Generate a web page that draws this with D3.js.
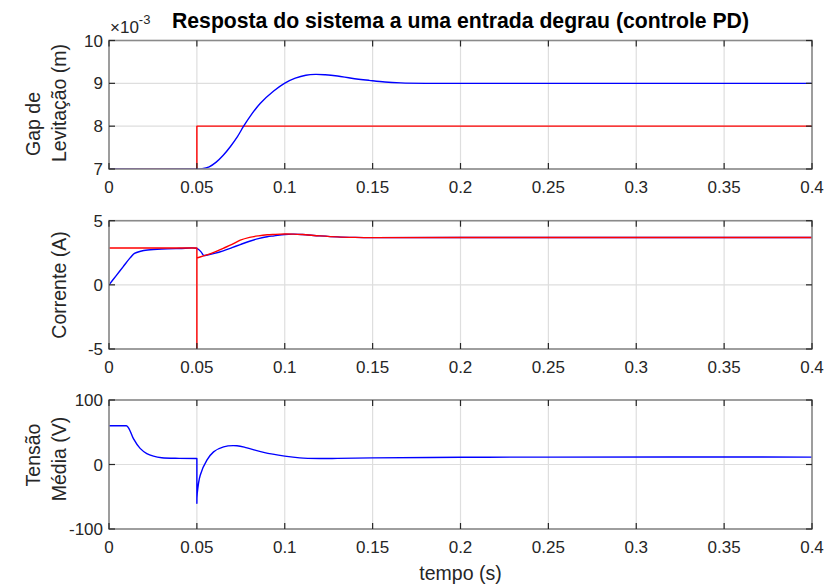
<!DOCTYPE html>
<html><head><meta charset="utf-8">
<script src="https://cdn.jsdelivr.net/npm/d3@7"></script>
<style>body{margin:0;background:#fff} text{font-family:"Liberation Sans",Arial,Helvetica,sans-serif;fill:#262626}</style>
</head><body><svg id="c" width="827" height="586"></svg>
<script>
// ---- data ----
const timeTicks = [0, 0.05, 0.1, 0.15, 0.2, 0.25, 0.3, 0.35, 0.4];
const timeTickLabels = ["0", "0.05", "0.1", "0.15", "0.2", "0.25", "0.3", "0.35", "0.4"];
const gapTicks = [7, 8, 9, 10];            // x10^-3 m
const currentTicks = [-5, 0, 5];
const voltageTicks = [-100, 0, 100];

// Gap de levitação (x10^-3 m)
const gapRefT = [0, 0.05, 0.05, 0.4];
const gapRefV = [7, 7, 8, 8];
const gapT = [0, 0.05, 0.053, 0.057, 0.061, 0.065, 0.069, 0.073, 0.0766, 0.081, 0.086, 0.0937, 0.0998, 0.106, 0.112, 0.1175, 0.123, 0.13, 0.138, 0.148, 0.157, 0.166, 0.18, 0.25, 0.4];
const gapV = [7, 7, 7.005, 7.05, 7.16, 7.32, 7.52, 7.75, 8.0, 8.27, 8.53, 8.82, 9.0, 9.12, 9.19, 9.21, 9.2, 9.17, 9.12, 9.07, 9.03, 9.01, 9.0, 9.0, 9.0];

// Corrente (A)
const curRefT = [0, 0.05, 0.05, 0.05, 0.0557, 0.06, 0.065, 0.07, 0.0747, 0.08, 0.085, 0.09, 0.094, 0.1, 0.105, 0.11, 0.12, 0.13, 0.14, 0.15, 0.2, 0.4];
const curRefV = [2.87, 2.87, -5, 2.09, 2.33, 2.55, 2.85, 3.15, 3.48, 3.7, 3.82, 3.9, 3.93, 3.96, 3.95, 3.92, 3.82, 3.74, 3.7, 3.68, 3.69, 3.69];
const curT = [0, 0.004, 0.008, 0.012, 0.0145, 0.018, 0.022, 0.03, 0.04, 0.05, 0.0525, 0.0538, 0.056, 0.06, 0.065, 0.07, 0.0747, 0.08, 0.085, 0.09, 0.094, 0.1, 0.105, 0.11, 0.12, 0.13, 0.14, 0.15, 0.2, 0.4];
const curV = [0, 0.7, 1.4, 2.1, 2.45, 2.62, 2.72, 2.8, 2.83, 2.84, 2.55, 2.3, 2.33, 2.45, 2.65, 2.9, 3.14, 3.4, 3.6, 3.75, 3.82, 3.93, 3.95, 3.92, 3.82, 3.74, 3.7, 3.68, 3.69, 3.69];

// Tensão média (V)
const voltT = [0, 0.009, 0.0101, 0.0115, 0.0139, 0.0177, 0.0215, 0.0253, 0.03, 0.04, 0.05, 0.05, 0.0502, 0.0519, 0.0557, 0.0595, 0.0652, 0.0728, 0.0785, 0.088, 0.1, 0.1085, 0.12, 0.13, 0.15, 0.2, 0.25, 0.4];
const voltV = [60, 60, 60, 55, 40, 25, 17, 13, 10.5, 9.5, 9.3, -60, -45, -16.6, 6.7, 19.6, 27.4, 29, 25.8, 18.7, 13, 10.3, 9.3, 9.5, 10.3, 11.2, 11.5, 11.5];

const titleText = "Resposta do sistema a uma entrada degrau (controle PD)";
const xLabelText = "tempo (s)";

// ---- drawing ----
const svg = d3.select("#c");
const L = 109, R = 812;
const x = d3.scaleLinear().domain([0, 0.4]).range([L, R]);

const panels = [
  {top: 40.5, bottom: 169, domain: [7, 10], ticks: gapTicks,
   series: [{t: gapRefT, v: gapRefV, c: "#ff0000"}, {t: gapT, v: gapV, c: "#0000ff"}],
   labels: [{text: "Gap de", x: 40, cy: 124}, {text: "Levitação (m)", x: 66, cy: 103}]},
  {top: 220.7, bottom: 349, domain: [-5, 5], ticks: currentTicks,
   series: [{t: curT, v: curV, c: "#0000ff"}, {t: curRefT, v: curRefV, c: "#ff0000"}],
   labels: [{text: "Corrente (A)", x: 66, cy: 285}]},
  {top: 400, bottom: 529, domain: [-100, 100], ticks: voltageTicks,
   series: [{t: voltT, v: voltV, c: "#0000ff"}],
   labels: [{text: "Tensão", x: 40, cy: 455}, {text: "Média (V)", x: 66, cy: 459}]}
];

function pathFor(ts, vs, xs, ys) {
  const pts = ts.map((t, i) => [t, vs[i]]);
  const runs = [];
  let cur = [pts[0]];
  for (let i = 1; i < pts.length; i++) {
    if (pts[i][0] <= pts[i - 1][0]) { runs.push(cur); cur = [pts[i]]; }
    else cur.push(pts[i]);
  }
  runs.push(cur);
  const line = d3.line().x(d => xs(d[0])).y(d => ys(d[1])).curve(d3.curveCatmullRom.alpha(0.5));
  return runs.map((r, i) => {
    let s = r.length > 1 ? line(r) : `M${xs(r[0][0])},${ys(r[0][1])}`;
    if (i > 0) s = "L" + s.slice(1);
    return s;
  }).join("");
}

panels.forEach((p, pi) => {
  const y = d3.scaleLinear().domain(p.domain).range([p.bottom, p.top]);
  const g = svg.append("g");
  // grid
  g.selectAll(".gx").data(timeTicks).enter().append("line")
    .attr("x1", d => x(d)).attr("x2", d => x(d)).attr("y1", p.top).attr("y2", p.bottom)
    .attr("stroke", "#dedede").attr("stroke-width", 1.2);
  g.selectAll(".gy").data(p.ticks).enter().append("line")
    .attr("x1", L).attr("x2", R).attr("y1", d => y(d)).attr("y2", d => y(d))
    .attr("stroke", "#dedede").attr("stroke-width", 1.2);
  // lines
  const clipId = "clip" + pi;
  svg.append("clipPath").attr("id", clipId).append("rect")
    .attr("x", L).attr("y", p.top - 1).attr("width", R - L).attr("height", p.bottom - p.top + 1);
  const lg = g.append("g").attr("clip-path", `url(#${clipId})`);
  p.series.forEach(s => {
    lg.append("path").attr("d", pathFor(s.t, s.v, x, y))
      .attr("fill", "none").attr("stroke", s.c).attr("stroke-width", 1.4)
      .attr("stroke-linejoin", "round");
  });
  // box
  g.append("rect").attr("x", L).attr("y", p.top).attr("width", R - L).attr("height", p.bottom - p.top)
    .attr("fill", "none").attr("stroke", "#8a8a8a").attr("stroke-width", 1.6);
  // ticks (inward)
  const tl = 6;
  timeTicks.forEach(t => {
    g.append("line").attr("x1", x(t)).attr("x2", x(t)).attr("y1", p.bottom).attr("y2", p.bottom - tl)
      .attr("stroke", "#262626").attr("stroke-width", 1.2);
    g.append("line").attr("x1", x(t)).attr("x2", x(t)).attr("y1", p.top).attr("y2", p.top + tl)
      .attr("stroke", "#262626").attr("stroke-width", 1.2);
  });
  p.ticks.forEach(v => {
    g.append("line").attr("x1", L).attr("x2", L + tl).attr("y1", y(v)).attr("y2", y(v))
      .attr("stroke", "#262626").attr("stroke-width", 1.2);
    g.append("line").attr("x1", R).attr("x2", R - tl).attr("y1", y(v)).attr("y2", y(v))
      .attr("stroke", "#262626").attr("stroke-width", 1.2);
  });
  // tick labels
  g.selectAll(".xl").data(timeTicks).enter().append("text")
    .attr("x", d => x(d)).attr("y", p.bottom + 24).attr("text-anchor", "middle")
    .attr("font-size", 17).text((d, i) => timeTickLabels[i]);
  g.selectAll(".yl").data(p.ticks).enter().append("text")
    .attr("x", L - 6).attr("y", d => y(d)).attr("dy", "0.36em").attr("text-anchor", "end")
    .attr("font-size", 17).text(d => d);
  // y labels
  p.labels.forEach(lb => {
    g.append("text").attr("transform", `translate(${lb.x},${lb.cy}) rotate(-90)`)
      .attr("text-anchor", "middle").attr("font-size", 19.5).text(lb.text);
  });
});

// exponent label
const ex = svg.append("text").attr("x", 110).attr("y", 33).attr("font-size", 17);
ex.append("tspan").text("×10");
ex.append("tspan").attr("font-size", 13).attr("dy", -9).text("-3");

// title
svg.append("text").attr("x", (L + R) / 2).attr("y", 28).attr("text-anchor", "middle")
  .attr("font-size", 21.2).attr("font-weight", "bold").style("fill", "#000").text(titleText);

// x label
svg.append("text").attr("x", (L + R) / 2).attr("y", 580).attr("text-anchor", "middle")
  .attr("font-size", 19.5).text(xLabelText);
</script></body></html>
